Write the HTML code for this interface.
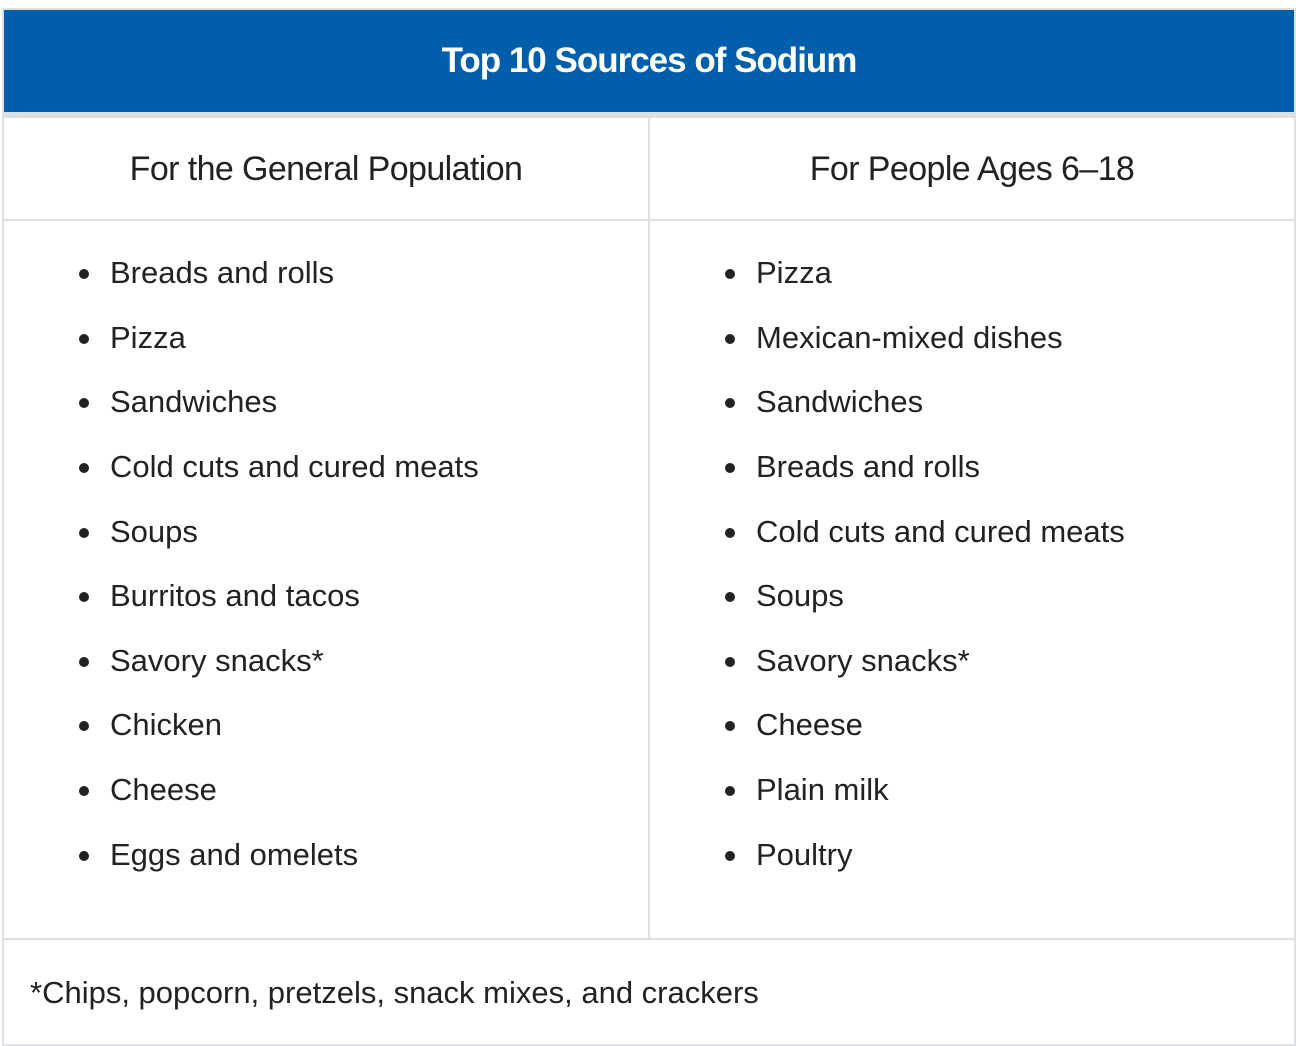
<!DOCTYPE html>
<html><head><meta charset="utf-8"><style>
body{margin:0;width:1296px;height:1045px;background:#fff;position:relative;font-family:"Liberation Sans",sans-serif;color:#222;overflow:hidden}
.a{position:absolute}
.t{white-space:nowrap;line-height:1}
li.item{position:absolute;list-style:none;font-size:31px;white-space:nowrap;line-height:1}
li.item:before{content:"";position:absolute;left:-31px;top:12px;width:10px;height:10px;border-radius:50%;background:#222}
</style></head><body>
<div class="a" style="left:2px;top:8px;width:1290px;height:1034px;border:2px solid #dde1e6"></div>
<div class="a" style="left:4px;top:10px;width:1290px;height:102px;background:#005eaa"></div>
<div class="a" style="left:4px;top:112px;width:1290px;height:6px;background:#dde1e6"></div>
<div class="a t" style="left:4px;width:1290px;top:43px;text-align:center;color:#fff;font-weight:bold;font-size:35px;letter-spacing:-1px">Top 10 Sources of Sodium</div>
<div class="a" style="left:648px;top:118px;width:2px;height:822px;background:#dde1e6"></div>
<div class="a" style="left:4px;top:219px;width:1290px;height:2px;background:#dde1e6"></div>
<div class="a" style="left:4px;top:938px;width:1290px;height:2px;background:#dde1e6"></div>
<div class="a t" style="left:4px;width:644px;top:152px;text-align:center;font-size:34px;letter-spacing:-0.6px">For the General Population</div>
<div class="a t" style="left:650px;width:644px;top:152px;text-align:center;font-size:34px;letter-spacing:-0.6px">For People Ages 6–18</div>
<ul class="a" style="margin:0;padding:0;left:0;top:0">
<li class="item" style="left:110px;top:257px">Breads and rolls</li>
<li class="item" style="left:110px;top:322px">Pizza</li>
<li class="item" style="left:110px;top:386px">Sandwiches</li>
<li class="item" style="left:110px;top:451px">Cold cuts and cured meats</li>
<li class="item" style="left:110px;top:516px">Soups</li>
<li class="item" style="left:110px;top:580px">Burritos and tacos</li>
<li class="item" style="left:110px;top:645px">Savory snacks*</li>
<li class="item" style="left:110px;top:709px">Chicken</li>
<li class="item" style="left:110px;top:774px">Cheese</li>
<li class="item" style="left:110px;top:839px">Eggs and omelets</li>
</ul>
<ul class="a" style="margin:0;padding:0;left:0;top:0">
<li class="item" style="left:756px;top:257px">Pizza</li>
<li class="item" style="left:756px;top:322px">Mexican-mixed dishes</li>
<li class="item" style="left:756px;top:386px">Sandwiches</li>
<li class="item" style="left:756px;top:451px">Breads and rolls</li>
<li class="item" style="left:756px;top:516px">Cold cuts and cured meats</li>
<li class="item" style="left:756px;top:580px">Soups</li>
<li class="item" style="left:756px;top:645px">Savory snacks*</li>
<li class="item" style="left:756px;top:709px">Cheese</li>
<li class="item" style="left:756px;top:774px">Plain milk</li>
<li class="item" style="left:756px;top:839px">Poultry</li>
</ul>
<div class="a t" style="left:30px;top:977px;font-size:31px">*Chips, popcorn, pretzels, snack mixes, and crackers</div>
</body></html>
